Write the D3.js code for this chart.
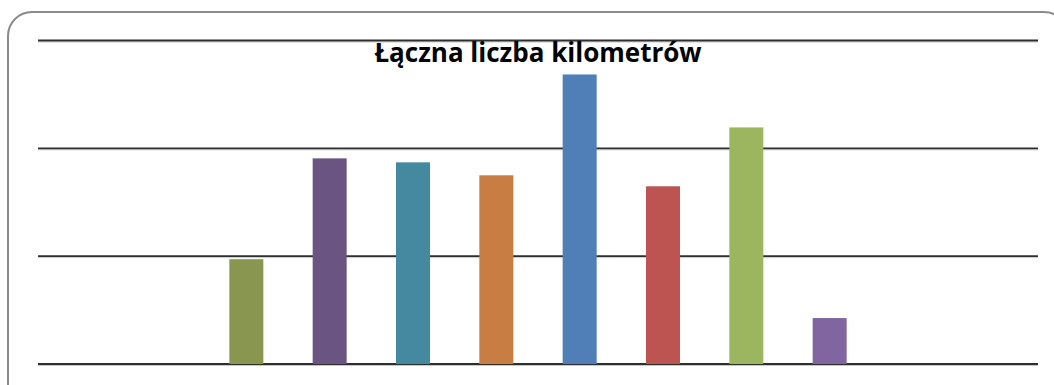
<!DOCTYPE html>
<html>
<head>
<meta charset="utf-8">
<script src="https://cdn.jsdelivr.net/npm/d3@7"></script>
<style>
  html, body { margin: 0; padding: 0; background: #fff; }
  svg { display: block; }
</style>
</head>
<body>
<svg id="chart" width="1054" height="385"></svg>
<script>
const title = "Łączna liczba kilometrów";
const categories = ["styczeń", "luty", "marzec", "kwiecień", "maj", "czerwiec", "lipiec", "sierpień", "wrzesień", "październik", "listopad", "grudzień"];
const values = [null, null, 972, 1907, 1870, 1750, 2685, 1648, 2194, 426, null, null];
const colors = ["#4F81BD", "#C0504D", "#88964F", "#6A5582", "#4489A0", "#C87D42", "#507FB8", "#BD5452", "#9BB65E", "#8065A0", "#4BACC6", "#F79646"];
const yTicks = [0, 1000, 2000, 3000];

const svg = d3.select("#chart");

// outer rounded frame
svg.append("rect")
  .attr("x", 8).attr("y", 12)
  .attr("width", 1060).attr("height", 400)
  .attr("rx", 24).attr("ry", 24)
  .attr("fill", "#fff")
  .attr("stroke", "#8a8a8a")
  .attr("stroke-width", 2);

const x = d3.scaleBand()
  .domain(categories)
  .range([38, 1038])
  .paddingInner(0.592)
  .paddingOuter(0.296);

const y = d3.scaleLinear()
  .domain([0, 3000])
  .range([364, 40.5]);

// gridlines
const grid = svg.append("g");
grid.selectAll("line.shadow")
  .data(yTicks)
  .join("line")
  .attr("class", "shadow")
  .attr("x1", 38).attr("x2", 1038)
  .attr("y1", d => y(d) + 1.5).attr("y2", d => y(d) + 1.5)
  .attr("stroke", "#c8c8c8")
  .attr("stroke-width", 1);
grid.selectAll("line.main")
  .data(yTicks)
  .join("line")
  .attr("class", "main")
  .attr("x1", 38).attr("x2", 1038)
  .attr("y1", d => y(d)).attr("y2", d => y(d))
  .attr("stroke", "#2e2e2e")
  .attr("stroke-width", 1.8);

// bars
svg.append("g")
  .selectAll("rect")
  .data(categories.map((c, i) => ({ c, v: values[i], col: colors[i] })).filter(d => d.v != null))
  .join("rect")
  .attr("x", d => x(d.c))
  .attr("width", x.bandwidth())
  .attr("y", d => y(d.v))
  .attr("height", d => y(0) - y(d.v))
  .attr("fill", d => d.col);

// title
svg.append("text")
  .attr("x", 538)
  .attr("y", 62)
  .attr("text-anchor", "middle")
  .attr("font-family", "'Open Sans', sans-serif")
  .attr("font-weight", 700)
  .attr("font-size", 26)
  .attr("fill", "#000")
  .text(title);
</script>
</body>
</html>
